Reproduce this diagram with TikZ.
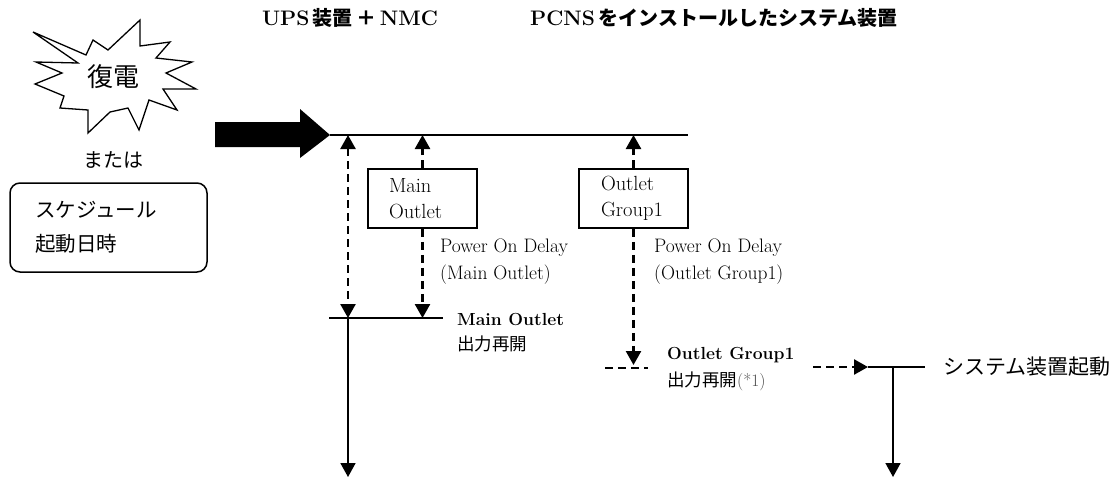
\documentclass[tikz,border=0pt]{standalone}
\usepackage{fontspec}
\newfontfamily\jp{Noto Sans CJK JP}
\usetikzlibrary{arrows.meta}
\begin{document}
\begin{tikzpicture}[x=1pt,y=-1pt,
  solid line/.style={line width=1.7pt},
  dline/.style={line width=2.5pt, dash pattern=on 8pt off 5pt},
  hd/.style={-{Triangle[width=15pt,length=14pt]}},
  hdboth/.style={{Triangle[width=15pt,length=14pt]}-{Triangle[width=15pt,length=14pt]}},
  box/.style={draw, line width=1.6pt, minimum height=59pt, align=left, inner ysep=0pt, font=\fontsize{20.5}{26}\selectfont},
  lbl/.style={anchor=west, inner sep=0pt, align=left, font=\fontsize{19.5}{27}\selectfont},
  blbl/.style={anchor=west, inner sep=0pt, align=left, font=\fontsize{17.5}{24}\selectfont\bfseries},
  title/.style={inner sep=0pt, font=\fontsize{21}{26}\selectfont\bfseries}
]
\useasboundingbox (0,0) rectangle (1114,477);

% titles
\node[title] (t1) at (350,18) {UPS\,{\jp\fontsize{20}{26}\selectfont 装置}\,{\jp\fontsize{20}{26}\selectfont ＋}\,NMC};
\node[title, anchor=west] (t2) at (530,18) {PCNS\,{\jp\fontsize{20}{26}\selectfont をインストールしたシステム装置}};

% starburst
\draw[line width=1.3pt, fill=white]
 (33,32) -- (86,55) -- (93,40) -- (108,50) -- (140,20) -- (140,46) -- (170,42)
 -- (156,58) -- (192,62) -- (166,73) -- (196,89) -- (163,89) -- (177,110)
 -- (149,100) -- (139,130) -- (128,108) -- (110,112) -- (88,133) -- (88,110)
 -- (60,108) -- (64,96) -- (35,84) -- (62,73) -- (36,62) -- (78,63) -- cycle;
\node[font=\fontsize{26}{30}\selectfont\jp] (fuku) at (113,77) {復電};
\node[font=\fontsize{20}{24}\selectfont\jp] (mata) at (113,160) {または};
\node[draw, line width=1.5pt, rounded corners=10pt, minimum width=197pt, minimum height=89pt,
  align=left, text width=147pt, inner xsep=25pt, font=\fontsize{20.5}{34}\selectfont\jp] (sched) at (108.5,227.5)
  {スケジュール\\起動日時};

% big arrow
\fill (215,122) -- (300,122) -- (300,109) -- (330,135) -- (300,158) -- (300,147) -- (215,147) -- cycle;
\coordinate (tipA) at (330,135);
\coordinate (topEnd) at (688,135);
\draw[solid line] (tipA) -- (topEnd);

% boxes
\node[box, minimum width=109pt, text width=67pt, inner xsep=21pt] (mo) at (422.5,198.5) {Main\\Outlet};
\node[box, minimum width=109pt, text width=65pt, inner xsep=22pt] (og) at (633.5,198.5) {Outlet\\Group1};

% lower main line
\coordinate (l1) at (329,318);
\coordinate (l2) at (443,318);
\draw[solid line] (l1) -- (l2);

% dashed arrows
\coordinate (a1t) at (348,135);
\coordinate (a1b) at (348,318);
\draw[dline, hdboth] (a1t) -- (a1b);
\coordinate (a2t) at (mo.north |- tipA);
\coordinate (a2b) at (mo.south |- l1);
\draw[dline, hd] (mo.north) -- (a2t);
\draw[dline, hd] (mo.south) -- (a2b);
\coordinate (a3t) at (og.north |- tipA);
\draw[dline, hd] (og.north) -- (a3t);

% labels
\node[lbl] (pd1) at (440,262) {Power On Delay\\(Main Outlet)};
\node[lbl] (pd2) at (654,262) {Power On Delay\\(Outlet Group1)};
\node[blbl] (mot) at (457,319) {Main Outlet};
\node[anchor=west, inner sep=0pt, font=\fontsize{17.5}{20}\selectfont\jp] (mor) at (457,344) {出力再開};
\node[blbl] (ogt) at (667,355) {Outlet Group1};
\node[anchor=west, inner sep=0pt, font=\fontsize{17.5}{20}\selectfont] (ogr) at (667,381) {{\jp 出力再開}{\color{black!70}(*1)}};
\node[anchor=west, inner sep=0pt, font=\fontsize{21}{24}\selectfont\jp] (sys) at (943,367) {システム装置起動};

% group1 down
\coordinate (g1) at (605,368);
\coordinate (g2) at (648,368);
\coordinate (g3) at (og.south |- 0,365);
\draw[dline, hd] (og.south) -- (g3);
\draw[dline] (g1) -- (g2);

% to system start
\coordinate (s1) at (813,367);
\coordinate (s2) at (868,367);
\coordinate (s3) at (925,367);
\coordinate (sv) at (893,367);
\coordinate (svb) at (893,477);
\draw[dline, hd] (s1) -- (s2);
\draw[solid line] (s2) -- (s3);
\draw[solid line, hd] (sv) -- (svb);

% main down
\coordinate (mb) at (348,477);
\draw[solid line, hd] (a1b) -- (mb);
\end{tikzpicture}
\end{document}
